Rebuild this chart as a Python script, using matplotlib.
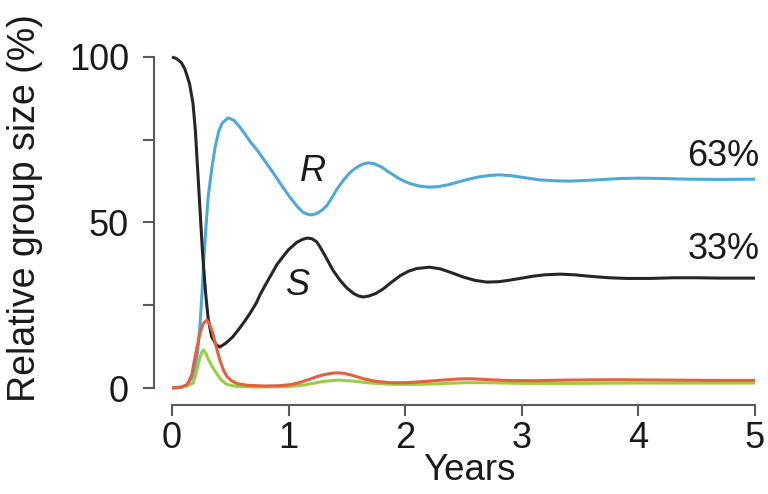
import matplotlib
matplotlib.use("Agg")
import matplotlib.pyplot as plt

plt.rcParams['font.family'] = ['Liberation Sans', 'DejaVu Sans']

# ---- data (years, % of population) ----
t_S = [0, 0.04, 0.08, 0.11, 0.15, 0.18, 0.20, 0.22, 0.24, 0.26, 0.27, 0.29, 0.31, 0.34,
       0.38, 0.41, 0.46, 0.52, 0.57, 0.62, 0.67, 0.72, 0.76, 0.81, 0.86, 0.90, 0.95,
       1.00, 1.07, 1.12, 1.16, 1.20, 1.24, 1.27, 1.32, 1.38, 1.44, 1.50, 1.56, 1.60,
       1.64, 1.69, 1.75, 1.81, 1.88, 1.96, 2.03, 2.10, 2.21, 2.30, 2.40, 2.50, 2.60,
       2.70, 2.80, 2.90, 3.00, 3.10, 3.20, 3.33, 3.45, 3.60, 3.75, 3.90, 4.10, 4.30,
       4.50, 4.70, 5.00]
S = [100, 99.5, 98.3, 96.4, 92, 86, 78, 66, 54, 42, 37, 28, 21, 15.5,
     13, 12.4, 13.5, 15.4, 17.6, 20, 22.6, 25.5, 28.5, 31.7, 34.8, 37.3, 39.6,
     41.8, 44, 44.9, 45.3, 45.1, 44.2, 42.6, 39.5, 35.6, 32.6, 30.2, 28.5, 27.8,
     27.5, 27.8, 28.6, 29.9, 31.9, 34.0, 35.3, 36.1, 36.5, 36.0, 34.8, 33.5, 32.5,
     32.0, 32.1, 32.6, 33.2, 33.8, 34.2, 34.4, 34.2, 33.7, 33.3, 33.1, 33.1, 33.3,
     33.3, 33.2, 33.2]

t_R = [0, 0.08, 0.13, 0.17, 0.20, 0.22, 0.24, 0.26, 0.27, 0.29, 0.31, 0.34, 0.37, 0.40,
       0.43, 0.48, 0.53, 0.58, 0.63, 0.68, 0.73, 0.80, 0.87, 0.94, 1.01, 1.07, 1.12,
       1.16, 1.20, 1.24, 1.29, 1.33, 1.37, 1.41, 1.47, 1.53, 1.59, 1.64, 1.68, 1.73,
       1.80, 1.87, 1.95, 2.03, 2.12, 2.20, 2.28, 2.38, 2.50, 2.62, 2.72, 2.81, 2.92,
       3.03, 3.15, 3.28, 3.41, 3.55, 3.70, 3.85, 4.00, 4.20, 4.40, 4.70, 5.00]
R = [0, 0.2, 1, 3, 6.5, 11, 19, 30, 37, 48, 57.7, 66, 72.8, 77.5,
     80, 81.6, 80.9, 78.9, 76.5, 74.0, 71.9, 68.4, 64.9, 61.2, 57.7, 55.0, 53.2,
     52.5, 52.3, 52.7, 53.8, 55.2, 57.4, 59.8, 62.8, 65.2, 66.8, 67.7, 68.0, 67.8,
     66.7, 65.0, 63.2, 61.9, 61.0, 60.7, 60.8, 61.5, 62.7, 63.7, 64.2, 64.4, 64.1,
     63.5, 62.9, 62.6, 62.5, 62.7, 63.0, 63.3, 63.4, 63.3, 63.1, 63.0, 63.1]

t_Rd = [0, 0.08, 0.13, 0.17, 0.19, 0.21, 0.23, 0.25, 0.27, 0.30, 0.32, 0.35, 0.38, 0.41,
        0.44, 0.47, 0.51, 0.56, 0.65, 0.80, 0.92, 1.01, 1.08, 1.16, 1.24, 1.30, 1.36,
        1.42, 1.48, 1.55, 1.64, 1.75, 1.87, 2.00, 2.10, 2.25, 2.44, 2.55, 2.67, 2.85,
        3.10, 3.40, 3.80, 4.20, 4.60, 5.00]
Rd = [0, 0.3, 1, 4, 8, 11.5, 15, 17.8, 19.6, 20.5, 19.5, 16.6, 12.3, 8.5,
      5.5, 3.5, 2.2, 1.3, 0.8, 0.6, 0.7, 1.0, 1.5, 2.4, 3.4, 4.0, 4.4,
      4.6, 4.4, 3.8, 2.8, 2.0, 1.6, 1.6, 1.8, 2.2, 2.7, 2.8,
      2.6, 2.3, 2.2, 2.4, 2.5, 2.4, 2.3, 2.3]

t_G = [0, 0.08, 0.13, 0.18, 0.20, 0.22, 0.24, 0.26, 0.27, 0.29, 0.31, 0.34, 0.38, 0.42,
       0.47, 0.55, 0.70, 1.00, 1.15, 1.30, 1.42, 1.55, 1.70, 1.90, 2.10, 2.30, 2.50,
       2.70, 3.00, 3.50, 4.00, 4.50, 5.00]
G = [0, 0.2, 0.6, 1.5, 3.5, 6.5, 9.3, 11.2, 11.5, 10.5, 8.8, 6.8, 4.5, 2.5,
     1.1, 0.5, 0.3, 0.4, 1.0, 2.0, 2.4, 2.1, 1.5, 1.1, 1.1, 1.3, 1.6,
     1.6, 1.4, 1.4, 1.5, 1.5, 1.5]

y_ticks = [0, 25, 50, 75, 100]
y_ticklabels = ['0', '', '50', '', '100']
x_ticks = [0, 1, 2, 3, 4, 5]

# ---- figure ----
fig = plt.figure(figsize=(7.68, 4.94), dpi=100)
ax = fig.add_axes([172/768, 106/494, 583/768, 331/494])

lw = 2.2
kw = dict(lw=lw, clip_on=False, solid_capstyle='butt', solid_joinstyle='round')
ax.plot(t_R, R, color='#4fa9d6', **kw)
ax.plot(t_S, S, color='#262626', **kw)
ax.plot(t_G, G, color='#9acd45', **kw)
ax.plot(t_Rd, Rd, color='#e4603f', **kw)

ax.set_xlim(0, 5)
ax.set_ylim(0, 100)

for s in ['top', 'right']:
    ax.spines[s].set_visible(False)
spcol = '#5a5a5a'
ax.spines['left'].set_position(('outward', 13))
ax.spines['bottom'].set_position(('outward', 12))
for s in ['left', 'bottom']:
    ax.spines[s].set_color(spcol)
    ax.spines[s].set_linewidth(1.5)

ax.set_yticks(y_ticks)
ax.set_yticklabels(y_ticklabels)
ax.set_xticks(x_ticks)
ax.tick_params(axis='both', direction='out', length=8, width=1.5, color=spcol,
               labelsize=26, labelcolor='#1a1a1a')
ax.tick_params(axis='y', pad=10)
ax.tick_params(axis='x', pad=4)

ax.set_ylabel('Relative group size (%)', fontsize=27, color='#1a1a1a')
ax.yaxis.set_label_coords(-0.222, 0.545)
ax.set_xlabel('Years', fontsize=26.5, color='#1a1a1a')
ax.xaxis.set_label_coords(0.51, -0.195)
ax.xaxis.label.set_va('top')

ax.text(1.21, 65.3, 'R', fontsize=26, style='italic', ha='center', va='center', color='#1a1a1a')
ax.text(1.08, 31.1, 'S', fontsize=26, style='italic', ha='center', va='center', color='#1a1a1a')
ax.text(5.04, 70, '63%', fontsize=26, ha='right', va='center', color='#1a1a1a')
ax.text(5.04, 41.7, '33%', fontsize=26, ha='right', va='center', color='#1a1a1a')

fig.savefig('out.png', dpi=100)
